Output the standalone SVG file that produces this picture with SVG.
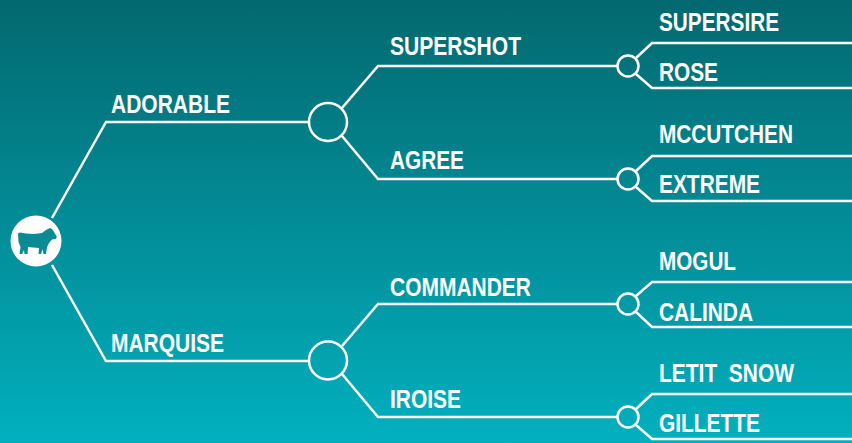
<svg xmlns="http://www.w3.org/2000/svg" width="852" height="443" viewBox="0 0 852 443">
<style>
.c{fill:none;stroke:#fff;stroke-width:2.500;stroke-linejoin:miter}
.n{fill:none;stroke:#fff;stroke-width:2.500}
text{font-family:"Liberation Sans",Arial,sans-serif;font-weight:700;font-size:25px;fill:#fff;stroke:none;white-space:pre}
</style>
<defs><linearGradient id="bg" x1="0" y1="0" x2="0" y2="1"><stop offset="0" stop-color="#03686f"/><stop offset="1" stop-color="#02b0bf"/></linearGradient></defs>
<rect width="852" height="443" fill="url(#bg)"/>
<g id="connectors">
<path class="c" d="M52 218L106 122H309"/>
<path class="c" d="M52 265L106 361H309"/>
<path class="c" d="M342 108L378 66H618"/>
<path class="c" d="M342 136L378 179H618"/>
<path class="c" d="M342 346L378 304H618"/>
<path class="c" d="M342 374L378 417H618"/>
<path class="c" d="M636 58L652 43H852"/>
<path class="c" d="M636 74L652 88H852"/>
<path class="c" d="M636 171L652 156H852"/>
<path class="c" d="M636 187L652 201H852"/>
<path class="c" d="M636 296L652 282H852"/>
<path class="c" d="M636 312L652 327H852"/>
<path class="c" d="M636 409L652 394H852"/>
<path class="c" d="M636 425L652 439H852"/>
</g>
<g id="root"><circle cx="36" cy="241" r="25.500" fill="#fff"/>
<path fill="#0a8a94" d="M18 233.500L20 232.500L26 233.500L34 234L42 233L46 230L50 228L52 229L54 232L57 237L55.500 239L52 239.500L49 243L47 247L46 254L43.500 254L42.500 249L41 254L38.500 254L39 248L33 247.500L28 247L27.500 254L24.500 254L24 250L22 254L19.500 254L20.500 247L18.500 242Z"/></g>
<g id="adorable"><circle class="n" cx="328" cy="122" r="19"/><text x="111" y="112.500" textLength="119" lengthAdjust="spacingAndGlyphs">ADORABLE</text></g>
<g id="marquise"><circle class="n" cx="328" cy="360.500" r="19"/><text x="111" y="351.500" textLength="113" lengthAdjust="spacingAndGlyphs">MARQUISE</text></g>
<g id="supershot"><circle class="n" cx="628" cy="66" r="10.500"/><text x="390" y="54.500" textLength="131" lengthAdjust="spacingAndGlyphs">SUPERSHOT</text></g>
<g id="agree"><circle class="n" cx="628" cy="179" r="10.500"/><text x="390" y="168.500" textLength="74" lengthAdjust="spacingAndGlyphs">AGREE</text></g>
<g id="commander"><circle class="n" cx="628" cy="304" r="10.500"/><text x="390" y="296" textLength="141" lengthAdjust="spacingAndGlyphs">COMMANDER</text></g>
<g id="iroise"><circle class="n" cx="628" cy="417" r="10.500"/><text x="390" y="407.500" textLength="71" lengthAdjust="spacingAndGlyphs">IROISE</text></g>
<g id="supersire"><text x="659" y="30.500" textLength="120" lengthAdjust="spacingAndGlyphs">SUPERSIRE</text></g>
<g id="rose"><text x="659" y="80.500" textLength="59" lengthAdjust="spacingAndGlyphs">ROSE</text></g>
<g id="mccutchen"><text x="659" y="142.500" textLength="134" lengthAdjust="spacingAndGlyphs">MCCUTCHEN</text></g>
<g id="extreme"><text x="659" y="192.500" textLength="101" lengthAdjust="spacingAndGlyphs">EXTREME</text></g>
<g id="mogul"><text x="659" y="269.500" textLength="77" lengthAdjust="spacingAndGlyphs">MOGUL</text></g>
<g id="calinda"><text x="659" y="320.500" textLength="94" lengthAdjust="spacingAndGlyphs">CALINDA</text></g>
<g id="letit"><text x="659" y="381.500" textLength="135" lengthAdjust="spacingAndGlyphs">LETIT  SNOW</text></g>
<g id="gillette"><text x="659" y="432" textLength="101" lengthAdjust="spacingAndGlyphs">GILLETTE</text></g>
</svg>
